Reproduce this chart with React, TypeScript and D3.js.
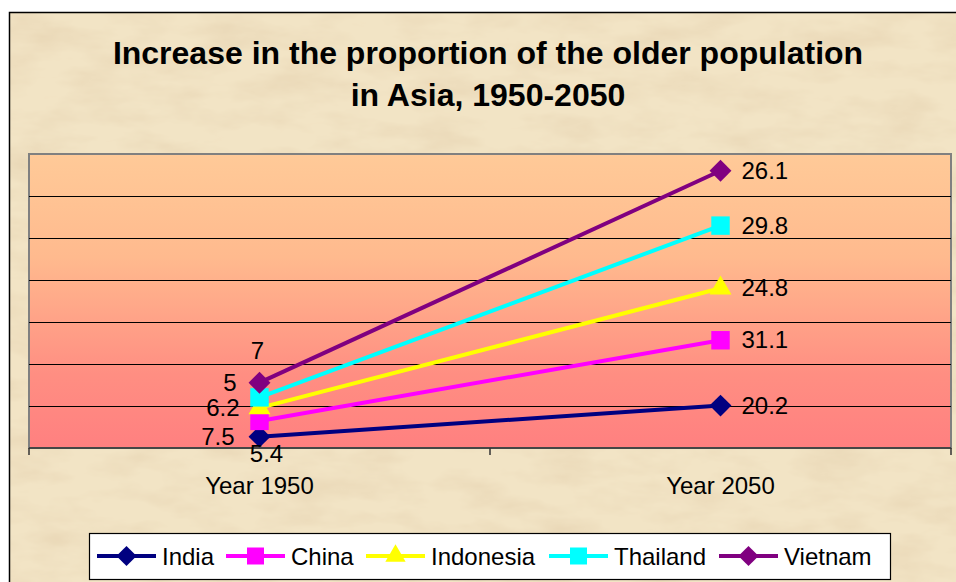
import { useEffect, useRef } from "react";
import * as d3 from "d3";

// categories and series (stacked line chart, labels show each series' own value)
const years = ["Year 1950", "Year 2050"];
const seriesNames = ["India", "China", "Indonesia", "Thailand", "Vietnam"];
const india = [5.4, 20.2];
const china = [7.5, 31.1];
const indonesia = [6.2, 24.8];
const thailand = [5, 29.8];
const vietnam = [7, 26.1];
const yTickValues = [0, 20, 40, 60, 80, 100, 120, 140];

const colors = ["#000080", "#FF00FF", "#FFFF00", "#00FFFF", "#800080"];
const shapes = ["diamond", "square", "triangle", "square", "diamond"];

// where the 1950 labels sit around their marker
const placement1950 = [
    { anchor: "middle", dx: 7, dy: 25 },
    { anchor: "end", dx: -25, dy: 24 },
    { anchor: "end", dx: -20, dy: 8 },
    { anchor: "end", dx: -23, dy: -6 },
    { anchor: "middle", dx: -2, dy: -24 },
];

const W = 956;
const H = 582;
const margin = { top: 154, right: 5, bottom: 134, left: 29 };

const markerPath = (shape: string, scale = 1) => {
    if (shape === "diamond") return d3.symbol(d3.symbolSquare, 240 * scale)();
    if (shape === "triangle") return d3.symbol(d3.symbolTriangle, 210 * scale)();
    return d3.symbol(d3.symbolSquare, 340 * scale)();
};

const App = () => {
    const ref = useRef<SVGSVGElement>(null);

    useEffect(() => {
        const svg = d3.select(ref.current);
        svg.selectAll("*").remove();

        const values = [india, china, indonesia, thailand, vietnam];
        const rows = years.map((yr, i) => {
            const r: any = { year: yr };
            seriesNames.forEach((s, k) => (r[s] = values[k][i]));
            return r;
        });
        const stacked = d3.stack().keys(seriesNames)(rows);

        const x = d3
            .scaleBand()
            .domain(years)
            .range([margin.left, W - margin.right]);
        const y = d3
            .scaleLinear()
            .domain([0, 140])
            .range([H - margin.bottom, margin.top]);
        const cx = (yr: string) => (x(yr) as number) + x.bandwidth() / 2;

        const defs = svg.append("defs");
        const grad = defs
            .append("linearGradient")
            .attr("id", "plotGrad")
            .attr("x1", 0)
            .attr("y1", 0)
            .attr("x2", 0)
            .attr("y2", 1);
        grad.append("stop").attr("offset", "0%").attr("stop-color", "#FFCA98");
        grad.append("stop").attr("offset", "35%").attr("stop-color", "#FFBA8E");
        grad.append("stop").attr("offset", "75%").attr("stop-color", "#FF8E82");
        grad.append("stop").attr("offset", "100%").attr("stop-color", "#FF8080");

        const filt = defs
            .append("filter")
            .attr("id", "paper")
            .attr("x", 0)
            .attr("y", 0)
            .attr("width", "100%")
            .attr("height", "100%");
        filt.append("feTurbulence")
            .attr("type", "fractalNoise")
            .attr("baseFrequency", "0.015 0.04")
            .attr("numOctaves", 4)
            .attr("seed", 3);
        filt.append("feColorMatrix")
            .attr("type", "matrix")
            .attr("values", "0 0 0 0 0.80  0 0 0 0 0.66  0 0 0 0 0.45  1.4 0 0 0 -0.55");

        // page background + chart area
        svg.append("rect").attr("width", W).attr("height", H).attr("fill", "#fff");
        svg.append("rect")
            .attr("x", 9)
            .attr("y", 12)
            .attr("width", W)
            .attr("height", H)
            .attr("fill", "#F2E4C5");
        svg.append("rect")
            .attr("x", 9)
            .attr("y", 12)
            .attr("width", W)
            .attr("height", H)
            .attr("filter", "url(#paper)");
        svg.append("rect")
            .attr("x", 9.5)
            .attr("y", 12.5)
            .attr("width", W)
            .attr("height", H)
            .attr("fill", "none")
            .attr("stroke", "#000")
            .attr("stroke-width", 1.5);

        // title
        const title = svg
            .append("text")
            .attr("text-anchor", "middle")
            .attr("font-family", "Liberation Sans, Arial, sans-serif")
            .attr("font-weight", "bold")
            .attr("font-size", 32)
            .attr("fill", "#000");
        title.append("tspan").attr("x", 488).attr("y", 64).text("Increase in the proportion of the older population");
        title.append("tspan").attr("x", 488).attr("y", 106).text("in Asia, 1950-2050");

        // plot area
        const [x0, x1] = x.range();
        const [yb, yt] = y.range();
        svg.append("rect")
            .attr("x", x0)
            .attr("y", yt)
            .attr("width", x1 - x0)
            .attr("height", yb - yt)
            .attr("fill", "url(#plotGrad)")
            .attr("stroke", "#808080")
            .attr("stroke-width", 2);

        svg.append("g")
            .selectAll("line")
            .data(yTickValues.filter((v) => v > 0 && v < 140))
            .enter()
            .append("line")
            .attr("x1", x0)
            .attr("x2", x1)
            .attr("y1", (d) => Math.round(y(d)) + 0.5)
            .attr("y2", (d) => Math.round(y(d)) + 0.5)
            .attr("stroke", "#000")
            .attr("stroke-width", 1);

        // x axis
        const axis = svg.append("g").attr("stroke", "#333").attr("stroke-width", 1.5);
        axis.append("line").attr("x1", x0).attr("x2", x1).attr("y1", yb).attr("y2", yb);
        const bounds = [...years.map((d) => x(d) as number), x1];
        axis.selectAll("line.tick")
            .data(bounds)
            .enter()
            .append("line")
            .attr("class", "tick")
            .attr("x1", (d) => d)
            .attr("x2", (d) => d)
            .attr("y1", yb)
            .attr("y2", yb + 7);
        svg.append("g")
            .selectAll("text")
            .data(years)
            .enter()
            .append("text")
            .attr("x", (d) => cx(d))
            .attr("y", 494)
            .attr("text-anchor", "middle")
            .attr("font-family", "Liberation Sans, Arial, sans-serif")
            .attr("font-size", 24)
            .text((d) => d);

        // lines + markers
        const line = d3
            .line<any>()
            .x((d) => cx(d.data.year))
            .y((d) => y(d[1]));

        stacked.forEach((layer, k) => {
            svg.append("path")
                .datum(layer)
                .attr("d", line)
                .attr("fill", "none")
                .attr("stroke", colors[k])
                .attr("stroke-width", 4);
        });
        stacked.forEach((layer, k) => {
            svg.append("g")
                .selectAll("path")
                .data(layer)
                .enter()
                .append("path")
                .attr("d", markerPath(shapes[k]))
                .attr("transform", (d: any) => `translate(${cx(d.data.year)},${y(d[1])})${shapes[k] === "diamond" ? " rotate(45)" : ""}`)
                .attr("fill", colors[k]);
        });

        // data labels
        const labels = svg
            .append("g")
            .attr("font-family", "Liberation Sans, Arial, sans-serif")
            .attr("font-size", 24)
            .attr("fill", "#000");
        stacked.forEach((layer, k) => {
            layer.forEach((d: any, i) => {
                const px = cx(d.data.year);
                const py = y(d[1]);
                const p = i === 0 ? placement1950[k] : { anchor: "start", dx: 21, dy: 8 };
                labels
                    .append("text")
                    .attr("x", px + p.dx)
                    .attr("y", py + p.dy)
                    .attr("text-anchor", p.anchor)
                    .text(values[k][i]);
            });
        });

        // legend
        const lg = svg.append("g");
        lg.append("rect")
            .attr("x", 89.5)
            .attr("y", 533.5)
            .attr("width", 801)
            .attr("height", 46)
            .attr("fill", "#fff")
            .attr("stroke", "#000")
            .attr("stroke-width", 1.2);
        const itemX = [97, 226, 366, 549, 719];
        seriesNames.forEach((s, k) => {
            const g = lg.append("g").attr("transform", `translate(${itemX[k]},556)`);
            g.append("line").attr("x1", 0).attr("x2", 59).attr("stroke", colors[k]).attr("stroke-width", 4);
            g.append("path")
                .attr("d", markerPath(shapes[k], 0.85))
                .attr("transform", `translate(29.5,0)${shapes[k] === "diamond" ? " rotate(45)" : ""}`)
                .attr("fill", colors[k]);
            g.append("text")
                .attr("x", 65)
                .attr("y", 8.5)
                .attr("font-family", "Liberation Sans, Arial, sans-serif")
                .attr("font-size", 24)
                .text(s);
        });
    }, []);

    return <svg ref={ref} width={W} height={H} style={{ position: "absolute", left: 0, top: 0, display: "block" }} />;
};

export default App;
